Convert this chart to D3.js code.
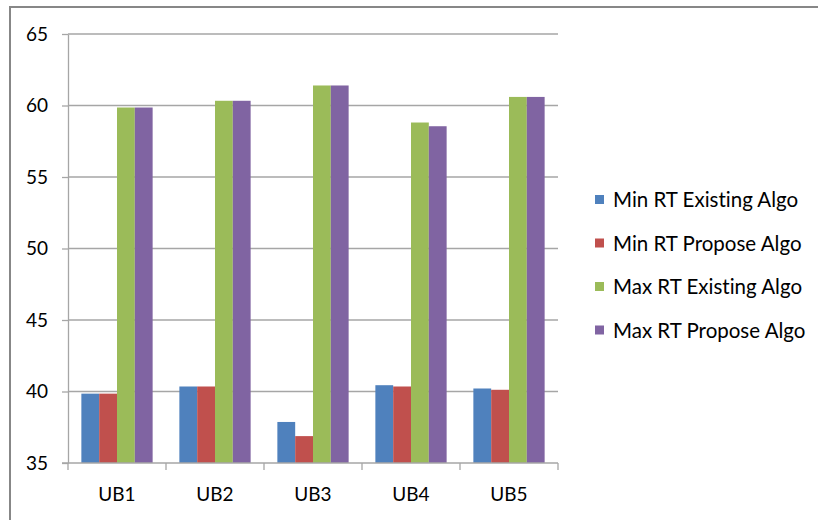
<!DOCTYPE html>
<meta charset="utf-8">
<title>RT comparison</title>
<style>
body { margin: 0; background: #fff; }
text { font-family: Lato, "Open Sans", sans-serif; fill: #000; font-variant-ligatures: none; }
.grid line { stroke: #a6a6a6; stroke-width: 1.3px; }
.axis path, .axis line { stroke: #a6a6a6; stroke-width: 1.3px; }
</style>
<svg width="818" height="520"></svg>
<script src="https://d3js.org/d3.v7.min.js"></script>
<script>

var categories = ["UB1", "UB2", "UB3", "UB4", "UB5"];
var series = ["Min RT Existing Algo", "Min RT Propose Algo", "Max RT Existing Algo", "Max RT Propose Algo"];
var minExisting = [39.85, 40.35, 37.87, 40.44, 40.21];
var minPropose  = [39.85, 40.35, 36.88, 40.35, 40.12];
var maxExisting = [59.86, 60.33, 61.4, 58.81, 60.6];
var maxPropose  = [59.86, 60.33, 61.4, 58.55, 60.6];
var yTicks = [35, 40, 45, 50, 55, 60, 65];
var colors = ["#4f81bd", "#c0504d", "#9bbb59", "#8064a2"];

var values = [minExisting, minPropose, maxExisting, maxPropose];
var rows = categories.map(function(c, i) {
  return { cat: c, vals: series.map(function(s, k) { return { key: s, v: values[k][i] }; }) };
});

var svg = d3.select("svg");

// outer chart frame (only top and left edges show in the picture)
svg.append("path")
  .attr("d", "M10,520 V7 H818")
  .attr("fill", "none")
  .attr("stroke", "#878787")
  .attr("stroke-width", 2);

var y = d3.scaleLinear().domain([35, 65]).range([463, 34]);
var x0 = d3.scaleBand().domain(categories).range([68, 558]).padding(0);
var x1 = d3.scaleBand().domain(series).range([0, x0.bandwidth()]).paddingInner(0).paddingOuter(0.75);
var color = d3.scaleOrdinal().domain(series).range(colors);

// gridlines
svg.append("g").attr("class", "grid")
  .selectAll("line")
  .data(yTicks.slice(1))
  .enter().append("line")
    .attr("x1", 68).attr("x2", 558)
    .attr("y1", function(d) { return y(d); })
    .attr("y2", function(d) { return y(d); });

// bars
var group = svg.append("g").selectAll("g")
  .data(rows)
  .enter().append("g")
    .attr("transform", function(d) { return "translate(" + x0(d.cat) + ",0)"; });

group.selectAll("rect")
  .data(function(d) { return d.vals; })
  .enter().append("rect")
    .attr("x", function(d) { return x1(d.key); })
    .attr("width", x1.bandwidth())
    .attr("y", function(d) { return y(d.v); })
    .attr("height", function(d) { return y(35) - y(d.v); })
    .attr("fill", function(d) { return color(d.key); });

// y axis
var yAxis = svg.append("g").attr("class", "axis")
  .attr("transform", "translate(68,0)")
  .call(d3.axisLeft(y).tickValues(yTicks).tickSize(6).tickSizeOuter(0).tickPadding(14));
yAxis.selectAll("text").style("font-size", "19px");

// x axis with ticks on category boundaries
var xAxis = svg.append("g").attr("class", "axis")
  .attr("transform", "translate(0,463)");
xAxis.append("line").attr("x1", 62).attr("x2", 558);
xAxis.selectAll(".tk")
  .data(categories.concat(["end"]))
  .enter().append("line")
    .attr("x1", function(d, i) { return i < categories.length ? x0(d) : x0.range()[1]; })
    .attr("x2", function(d, i) { return i < categories.length ? x0(d) : x0.range()[1]; })
    .attr("y1", 0).attr("y2", 7);
xAxis.selectAll(".lbl")
  .data(categories)
  .enter().append("text")
    .attr("x", function(d) { return x0(d) + x0.bandwidth() / 2; })
    .attr("y", 38)
    .attr("text-anchor", "middle")
    .style("font-size", "19px")
    .text(function(d) { return d; });

// legend
var legend = svg.append("g").attr("class", "legend").selectAll("g")
  .data(series)
  .enter().append("g")
    .attr("transform", function(d, i) { return "translate(595," + (200 + i * 43.5) + ")"; });
legend.append("rect")
  .attr("x", 0).attr("y", -5)
  .attr("width", 9).attr("height", 9)
  .attr("fill", function(d) { return color(d); });
legend.append("text")
  .attr("x", 18).attr("y", 0)
  .attr("dy", "0.35em")
  .style("font-size", "20.5px")
  .text(function(d) { return d; });

</script>
